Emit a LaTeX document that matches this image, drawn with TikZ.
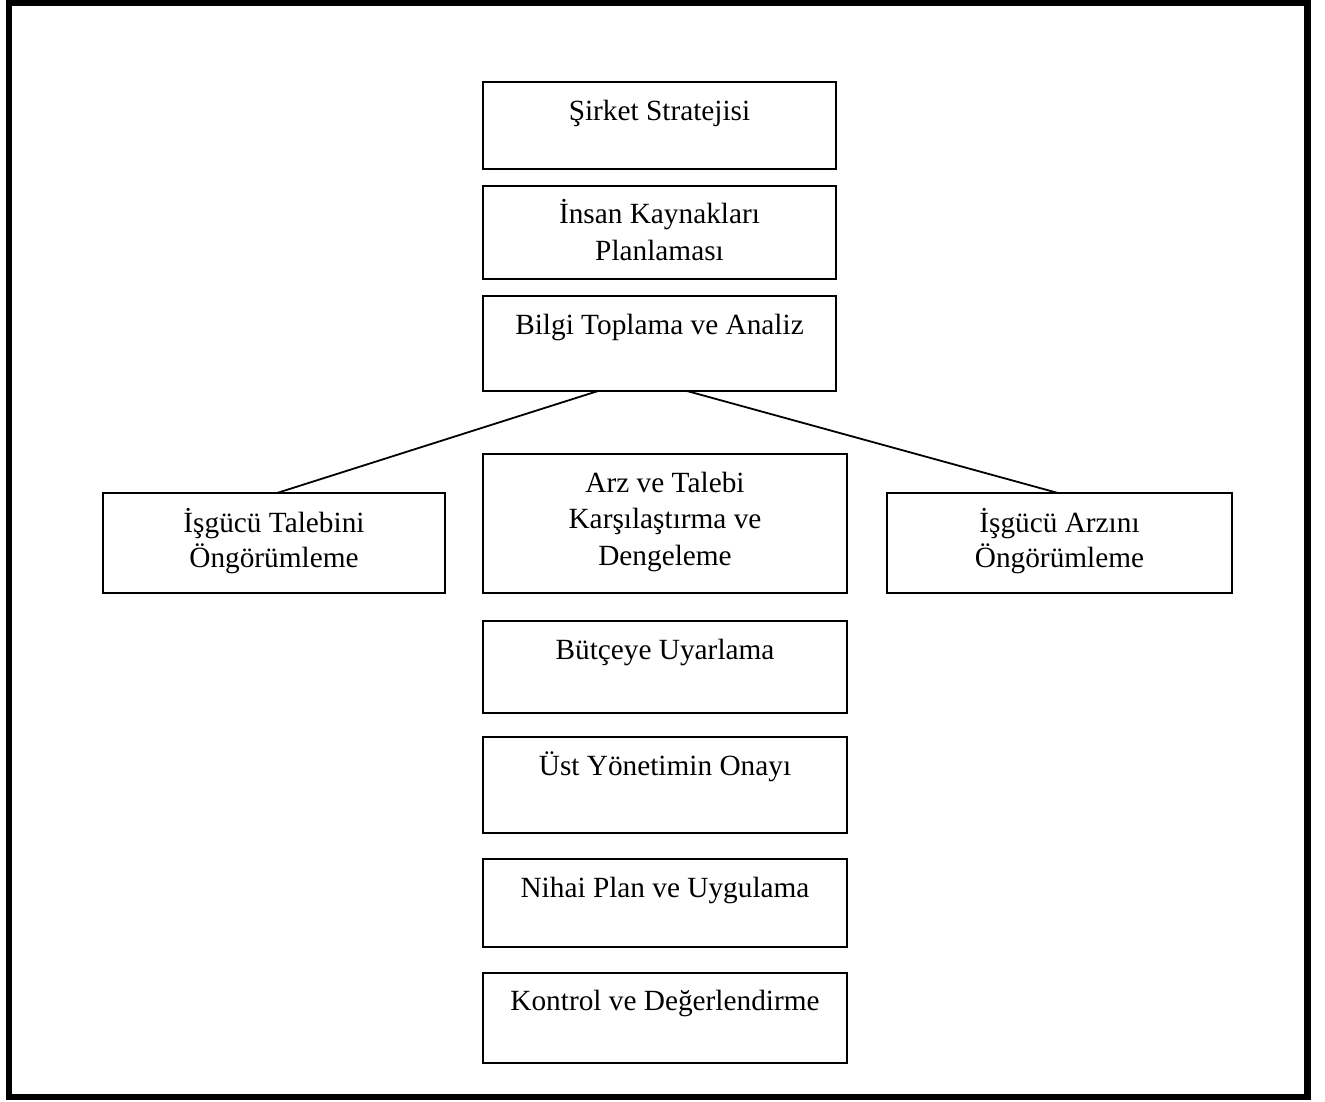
\documentclass[tikz,border=0pt]{standalone}
\usepackage{fontspec}
\setmainfont{Liberation Serif}
\usetikzlibrary{calc}
\begin{document}
\begin{tikzpicture}[x=1pt,y=-1pt,
  box/.style={draw, line width=1.8pt, inner sep=0pt, outer sep=0pt},
  txt/.style={anchor=base, inner sep=0pt, font=\fontsize{29.3}{36.5}\selectfont},
  sidetxt/.style={txt, font=\fontsize{29.3}{35}\selectfont},
  conn/.style={line width=1.8pt},
  frameline/.style={line width=6.5pt}]
\useasboundingbox (0,0) rectangle (1325,1102);
\draw[frameline] (9,3) rectangle (1307.5,1097);
% boxes
\node[box, minimum width=353, minimum height=87] (b1) at (659.5,125.5) {};
\node[box, minimum width=353, minimum height=93] (b2) at (659.5,232.5) {};
\node[box, minimum width=353, minimum height=95] (b3) at (659.5,343.5) {};
\node[box, minimum width=364, minimum height=139] (b4) at (665,523.5) {};
\node[box, minimum width=342, minimum height=100] (bl) at (274,543) {};
\node[box, minimum width=345, minimum height=100] (br) at (1059.5,543) {};
\node[box, minimum width=364, minimum height=92] (b5) at (665,667) {};
\node[box, minimum width=364, minimum height=96] (b6) at (665,785) {};
\node[box, minimum width=364, minimum height=88] (b7) at (665,903) {};
\node[box, minimum width=364, minimum height=90] (b8) at (665,1018) {};
% texts
\node[txt] (b1t) at ($(b1.north)+(0,39)$) {Şirket Stratejisi};
\node[txt] (b2t) at ($(b2.north)+(0,38)$) {\begin{tabular}[t]{@{}c@{}}İnsan Kaynakları\\Planlaması\end{tabular}};
\node[txt] (b3t) at ($(b3.north)+(0,38)$) {Bilgi Toplama ve Analiz};
\node[txt] (b4t) at ($(b4.north)+(0,38)$) {\begin{tabular}[t]{@{}c@{}}Arz ve Talebi\\Karşılaştırma ve\\Dengeleme\end{tabular}};
\node[sidetxt] (blt) at ($(bl.north)+(0,39.5)$) {\begin{tabular}[t]{@{}c@{}}İşgücü Talebini\\Öngörümleme\end{tabular}};
\node[sidetxt] (brt) at ($(br.north)+(0,39.5)$) {\begin{tabular}[t]{@{}c@{}}İşgücü Arzını\\Öngörümleme\end{tabular}};
\node[txt] (b5t) at ($(b5.north)+(0,38)$) {Bütçeye Uyarlama};
\node[txt] (b6t) at ($(b6.north)+(0,38)$) {Üst Yönetimin Onayı};
\node[txt] (b7t) at ($(b7.north)+(0,38)$) {Nihai Plan ve Uygulama};
\node[txt] (b8t) at ($(b8.north)+(0,37.5)$) {Kontrol ve Değerlendirme};
% connectors
\coordinate (c3l) at ($(b3.south west)+(115,0)$);
\coordinate (c3r) at ($(b3.south west)+(204,0)$);
\coordinate (cl) at ($(bl.north west)+(174,0)$);
\coordinate (cr) at ($(br.north west)+(171,0)$);
\draw[conn] (c3l) -- (cl);
\draw[conn] (c3r) -- (cr);
\end{tikzpicture}
\end{document}
